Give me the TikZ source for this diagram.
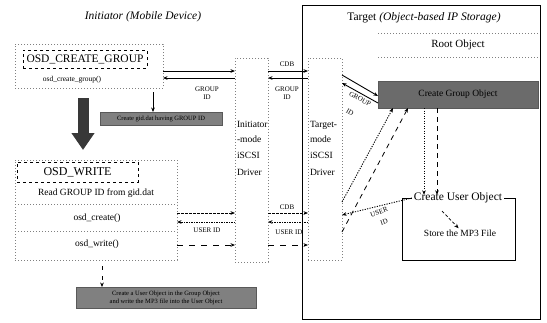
\documentclass[tikz,border=0pt]{standalone}
\usepackage{fontspec}
\setmainfont{Liberation Serif}
\usetikzlibrary{arrows.meta}
\begin{document}
\begin{tikzpicture}[x=1pt,y=-1pt,
  every node/.style={inner sep=0pt,outer sep=0pt},
  tip/.style={-{Stealth[length=4.5pt,width=3.6pt]}},
  solidarrow/.style={tip,line width=0.9pt},
  dotarrow/.style={tip,line width=0.9pt,dash pattern=on 1.2pt off 1.3pt},
  shortdash/.style={tip,line width=0.9pt,dash pattern=on 2.6pt off 1.4pt},
  longdash/.style={tip,line width=0.8pt,dash pattern=on 6pt off 6pt},
  faint/.style={draw=black!50,line width=0.5pt,dash pattern=on 1pt off 2pt},
  shaded/.style={fill=black!50,draw=black!65,line width=0.4pt,text=black},
  tt/.style={font=\fontsize{11.5}{13}\selectfont},
  body/.style={font=\fontsize{9.5}{11}\selectfont},
  small/.style={font=\fontsize{7.5}{8.5}\selectfont},
  lab/.style={font=\fontsize{7}{8}\selectfont,align=center},
  tiny/.style={font=\fontsize{6.5}{8}\selectfont,align=center}]
\useasboundingbox (0,0) rectangle (547,322);

% helper rows and columns
\coordinate (r71) at (0,71);   \coordinate (r78) at (0,78);
\coordinate (r75) at (0,75);   \coordinate (r83) at (0,83);
\coordinate (r96) at (0,96);   \coordinate (r103) at (0,103);
\coordinate (r202) at (0,202); \coordinate (r204) at (0,204);
\coordinate (r213) at (0,213); \coordinate (r215) at (0,215);
\coordinate (r222) at (0,222); \coordinate (r231) at (0,231);
\coordinate (r232) at (0,232); \coordinate (r245) at (0,245);
\coordinate (c83) at (83,0);   \coordinate (c102) at (102,0);
\coordinate (c153) at (153,0); \coordinate (c393) at (393,0);
\coordinate (c408) at (408,0); \coordinate (c424) at (424,0);
\coordinate (c437) at (437,0);

% ---------------- Initiator side ----------------
\node[tt,font=\fontsize{11.5}{13}\selectfont\itshape] (tI) at (143,17) {Initiator (Mobile Device)};

\node[faint,minimum width=148,minimum height=44] (grpA) at (89,66) {};
\node[draw,dashed,line width=0.5pt,minimum width=124,minimum height=18,tt] (ocg) at (85,59) {OSD\_CREATE\_GROUP};
\node[small] (fcg) at (72,80) {osd\_create\_group()};

\node[shaded,minimum width=122,minimum height=13,tiny] (gidb) at (161,118.5) {Create gid.dat having GROUP ID};

\node[faint,minimum width=162,minimum height=100] (grpB) at (96,210) {};
\node[draw,dashed,line width=0.5pt,minimum width=121,minimum height=20,tt,font=\fontsize{12}{13}\selectfont] (wrk) at (77.5,172) {OSD\_WRITE};
\node[body] (rd) at (96,193) {Read GROUP ID from gid.dat};
\draw[faint] (grpB.west |- r204) -- (grpB.east |- r204);
\node[body] (fcr) at (97,218) {osd\_create()};
\draw[faint] (grpB.west |- r231) -- (grpB.east |- r231);
\node[body] (fwr) at (97,244) {osd\_write()};

\node[shaded,minimum width=180,minimum height=21,tiny] (fin) at (166,297.5)
  {Create a User Object in the Group Object\\and write the MP3 file into the User Object};

% initiator-mode driver
\node[faint,minimum width=33,minimum height=204] (idrv) at (251.5,160) {};
\node[body,anchor=base west] (i1) at (237,127) {Initiator};
\node[body,anchor=base west] (i2) at (237,142) {-mode};
\node[body,anchor=base west] (i3) at (237,158) {iSCSI};
\node[body,anchor=base west] (i4) at (237,175) {Driver};

% ---------------- Target side ----------------
\node[draw,line width=1pt,minimum width=238,minimum height=314] (tgt) at (421,162) {};
\node[tt] (tT) at (424,18) {Target \textit{(Object-based IP Storage)}};

\node[minimum width=160,minimum height=24,tt,font=\fontsize{11}{13}\selectfont] (root) at (458,45) {Root Object};
\draw[faint] (root.north west) -- (root.north east);
\draw[faint] (root.south west) -- (root.south east);

\node[shaded,fill=black!58,minimum width=160,minimum height=27,body] (cgo) at (458,94.5) {Create Group Object};

% target-mode driver
\node[faint,minimum width=34,minimum height=202] (tdrv) at (325,159) {};
\node[body,anchor=base west] (t1) at (310,127) {Target-};
\node[body,anchor=base west] (t2) at (310,142) {mode};
\node[body,anchor=base west] (t3) at (310,158) {iSCSI};
\node[body,anchor=base west] (t4) at (310,175) {Driver};

% user object
\node[draw,line width=1pt,minimum width=113,minimum height=62] (cuo) at (458.5,229) {};
\node[tt,fill=white,inner xsep=2pt] (cuot) at (458,198) {Create User Object};
\node[body] (mp3) at (460,233) {Store the MP3 File};

% ---------------- connectors ----------------
% group creation exchange
\draw[solidarrow] (grpA.east |- r71) -- (idrv.west |- r71);
\draw[solidarrow] (idrv.west |- r78) -- (grpA.east |- r78);
\node[lab] (g1) at (207,93) {GROUP\\ID};

\node[lab] (cdb1) at (287,64) {CDB};
\draw[solidarrow] (idrv.east |- r71) -- (tdrv.west |- r71);
\draw[solidarrow] (tdrv.west |- r78) -- (idrv.east |- r78);
\node[lab] (g2) at (287,93) {GROUP\\ID};

\draw[solidarrow] (tdrv.east |- r75) -- (cgo.west |- r96);
\draw[solidarrow] (cgo.west |- r103) -- (tdrv.east |- r83);
\node[lab,rotate=-30] (g3a) at (360,99) {GROUP};
\node[lab,rotate=-30] (g3b) at (350,112) {ID};

% gid.dat and flow to OSD_WRITE
\draw[tip,line width=0.6pt,shorten <=4pt] (grpA.south -| c153) -- (gidb.north -| c153);
\draw[line width=11pt,draw=black!78,shorten <=10pt,shorten >=12pt,
      -{Triangle[length=17pt,width=22pt]}] (grpA.south -| c83) -- (wrk.north -| c83);

% user object exchange
\draw[shortdash] (grpB.east |- r213) -- (idrv.west |- r213);
\draw[dotarrow] (idrv.west |- r222) -- (grpB.east |- r222);
\draw[longdash] (grpB.east |- r245) -- (idrv.west |- r245);
\node[lab] (u1) at (207,230) {USER ID};

\node[lab] (cdb2) at (287,207) {CDB};
\draw[shortdash] (idrv.east |- r213) -- (tdrv.west |- r213);
\draw[dotarrow] (tdrv.west |- r222) -- (idrv.east |- r222);
\draw[longdash] (idrv.east |- r245) -- (tdrv.west |- r245);
\node[lab] (u2) at (289,232) {USER ID};

\draw[dotarrow] (tdrv.east |- r202) -- (cgo.south -| c393);
\draw[tip,line width=0.8pt,dash pattern=on 5pt off 4.5pt] (tdrv.east |- r232) -- (cgo.south -| c408);
\draw[dotarrow] (cgo.south -| c424) -- ([yshift=-2pt]cuot.north -| c424);
\draw[tip,line width=0.8pt,dash pattern=on 5pt off 4pt] (cgo.south -| c437) -- ([yshift=-2pt]cuot.north -| c437);

\draw[dotarrow] (cuot.west) -- (tdrv.east |- r215);
\node[lab,rotate=20] (u3a) at (379,212) {USER};
\node[lab,rotate=20] (u3b) at (384,222) {ID};

\coordinate (ia) at (442,211);
\draw[tip,line width=0.7pt,dash pattern=on 3pt off 2pt,shorten >=2pt] (ia) -- (mp3.north);

% results of osd_write
\draw[tip,line width=0.6pt,dash pattern=on 4pt off 6pt,shorten <=6pt] (grpB.south -| c102) -- (fin.north -| c102);
\end{tikzpicture}
\end{document}
